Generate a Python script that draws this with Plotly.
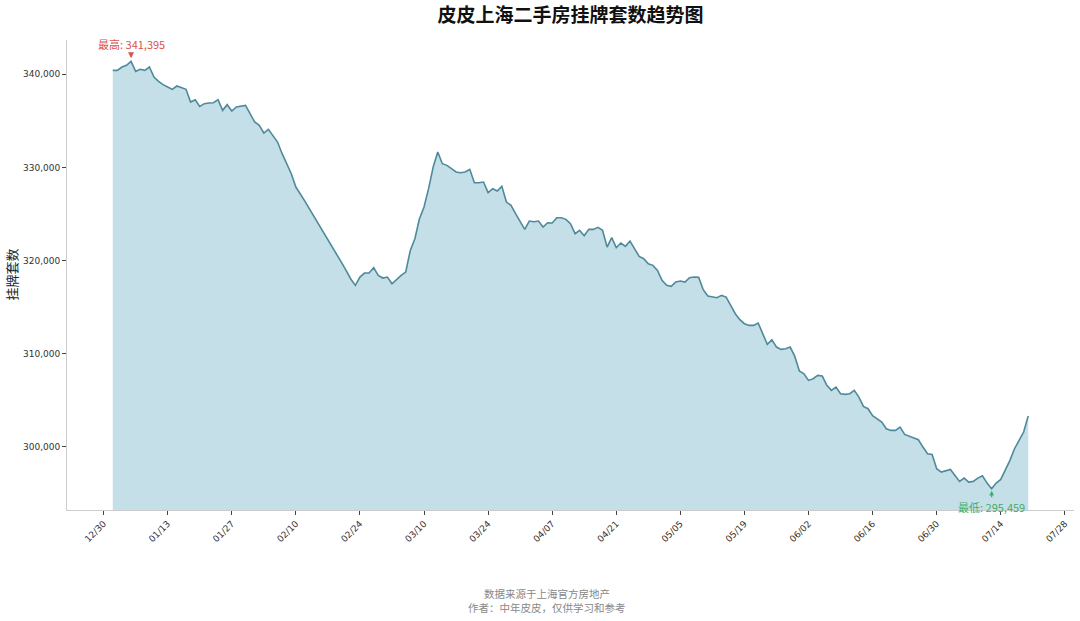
import pandas as pd
import plotly.graph_objects as go

# ---- data ----
start_date = "2025-01-01"
listings = [
    340430, 340430, 340788, 340968, 341395, 340323, 340538, 340430, 340788, 339713,
    339247, 338889, 338638, 338387, 338745, 338566, 338387, 337025, 337276, 336559,
    336846, 336918, 336953, 337276, 336129, 336738, 336057, 336487, 336559, 336667,
    335771, 334874, 334516, 333691, 334086, 333333, 332724, 331470, 330394, 329319,
    327885, 327168, 326350, 325500, 324700, 323900, 323100, 322300, 321450, 320600,
    319750, 318900, 318000, 317312, 318207, 318637, 318637, 319211, 318387, 318100,
    318207, 317490, 317956, 318387, 318745, 321075, 322330, 324480, 325735, 327706,
    330035, 331648, 330394, 330215, 329857, 329498, 329427, 329498, 329785, 328351,
    328351, 328423, 327276, 327706, 327455, 327957, 326272, 325914, 325018, 324229,
    323333, 324229, 324158, 324229, 323584, 324050, 324014, 324588, 324588, 324409,
    323943, 322867, 323226, 322652, 323333, 323333, 323548, 323226, 321433, 322437,
    321362, 321864, 321505, 322079, 321254, 320430, 320179, 319641, 319462, 318925,
    317849, 317312, 317204, 317670, 317777, 317670, 318136, 318207, 318172, 316845,
    316165, 316057, 315985, 316236, 316057, 315161, 314265, 313620, 313190, 313011,
    313011, 313262, 312186, 310967, 311469, 310681, 310430, 310502, 310681, 309677,
    308100, 307813, 307097, 307276, 307634, 307563, 306559, 306022, 306380, 305663,
    305591, 305663, 306022, 305305, 304301, 304050, 303298, 302939, 302616, 301900,
    301720, 301720, 302079, 301290, 301075, 300896, 300717, 299928, 299210, 299140,
    297598, 297240, 297348, 297526, 296881, 296236, 296594, 296165, 296236, 296594,
    296845, 296057, 295459, 296057, 296451, 297419, 298494, 299749, 300717, 301541,
    303260,
]
tick_dates = ["2024-12-30", "2025-01-13", "2025-01-27", "2025-02-10", "2025-02-24",
              "2025-03-10", "2025-03-24", "2025-04-07", "2025-04-21", "2025-05-05",
              "2025-05-19", "2025-06-02", "2025-06-16", "2025-06-30", "2025-07-14",
              "2025-07-28"]
y_ticks = [300000, 310000, 320000, 330000, 340000]

title_text = "皮皮上海二手房挂牌套数趋势图"
y_label = "挂牌套数"
footer_1 = "数据来源于上海官方房地产"
footer_2 = "作者：中年皮皮，仅供学习和参考"

# ---- figure ----
dates = pd.date_range(start_date, periods=len(listings), freq="D")
s = pd.Series(listings, index=dates)
vmax, dmax = s.max(), s.idxmax()
vmin, dmin = s.min(), s.idxmin()

span_days = (dates[-1] - dates[0]).days
pad = pd.Timedelta(days=span_days * 0.05)
vspan = vmax - vmin
yr = [vmin - vspan * 0.05, vmax + vspan * 0.05]

FONT = "DejaVu Sans, Noto Sans CJK SC, sans-serif"
CJK = "Noto Sans CJK SC, sans-serif"

fig = go.Figure()
fig.add_trace(go.Scatter(
    x=dates, y=listings, mode="lines",
    line=dict(color="#4e8a9b", width=1.6),
    fill="tozeroy", fillcolor="rgba(150,196,214,0.55)",
    hoverinfo="skip", showlegend=False,
))

fig.add_annotation(
    x=dmax, y=vmax, xref="x", yref="y",
    text=f"最高: {vmax:,}", showarrow=True, ax=0, ay=-17,
    arrowhead=2, arrowsize=1, arrowwidth=1.2, arrowcolor="#d9534f", standoff=3,
    font=dict(family=CJK, size=11, color="#d9534f"),
)
fig.add_annotation(
    x=dmin, y=vmin, xref="x", yref="y",
    text=f"最低: {vmin:,}", showarrow=True, ax=0, ay=18,
    arrowhead=2, arrowsize=0.8, arrowwidth=1.2, arrowcolor="#3fae6a", standoff=2,
    font=dict(family=CJK, size=11, color="#3fae6a"),
)

fig.add_annotation(
    xref="paper", yref="paper", x=-0.056, y=0.5, text=y_label, textangle=-90,
    showarrow=False, xanchor="center", yanchor="middle",
    font=dict(family=CJK, size=13, color="#222"),
)
fig.add_annotation(
    xref="paper", yref="paper", x=0.4767, y=-0.1787, text=footer_1,
    showarrow=False, xanchor="center", yanchor="middle",
    font=dict(family=CJK, size=10.5, color="#888"),
)
fig.add_annotation(
    xref="paper", yref="paper", x=0.4767, y=-0.2085, text=footer_2,
    showarrow=False, xanchor="center", yanchor="middle",
    font=dict(family=CJK, size=10.5, color="#888"),
)

fig.update_layout(
    width=1080, height=621,
    margin=dict(l=67, r=6, t=40, b=111),
    paper_bgcolor="white", plot_bgcolor="white",
    title=dict(text=f"<b>{title_text}</b>", x=0.5, xref="paper", xanchor="center",
               y=1 - 15 / 621, yref="container", yanchor="middle",
               font=dict(family=CJK, size=19, color="#111")),
    hovermode=False,
)
fig.update_xaxes(
    range=[dates[0] - pad, dates[-1] + pad], automargin=False,
    tickvals=pd.to_datetime(tick_dates), ticktext=[d[5:7] + "/" + d[8:10] for d in tick_dates],
    tickangle=-45, ticks="outside", ticklen=4, tickcolor="#444", tickwidth=1,
    showline=True, linecolor="#cccccc", linewidth=1, showgrid=False, zeroline=False,
    tickfont=dict(family=FONT, size=9, color="#333"),
)
fig.update_yaxes(
    range=yr, tickvals=y_ticks, ticktext=[f"{v:,}" for v in y_ticks], automargin=False,
    ticks="outside", ticklen=4, tickcolor="#444", tickwidth=1,
    showline=True, linecolor="#cccccc", linewidth=1, showgrid=False, zeroline=False,
    tickfont=dict(family=FONT, size=9, color="#333"),
)

fig.write_html(
    "out.html",
    config={"displayModeBar": False, "staticPlot": True},
    post_script="document.body.style.margin='0';document.body.style.overflow='hidden';",
)
